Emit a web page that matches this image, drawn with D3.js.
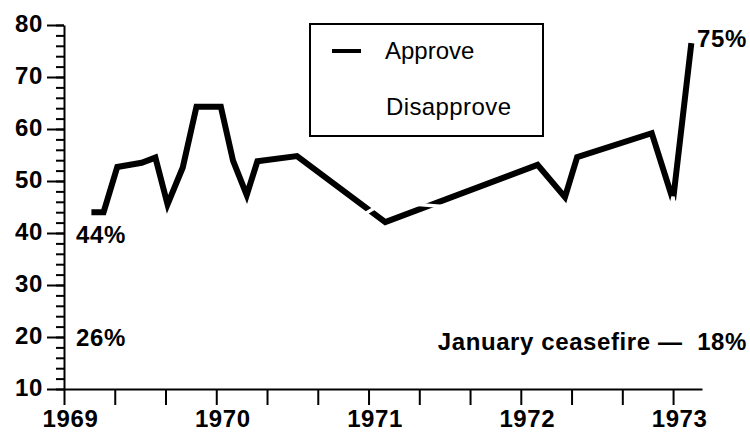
<!DOCTYPE html>
<html>
<head>
<meta charset="utf-8">
<script src="https://cdn.jsdelivr.net/npm/d3@7"></script>
<style>
  body { margin: 0; background: #fff; }
  svg { display: block; font-family: "Liberation Sans", Arial, Helvetica, sans-serif; }
</style>
</head>
<body>
<div id="chart"></div>
<script>
// Approve series (fractional year, percent)
const approveDates = [1969.18, 1969.26, 1969.35, 1969.51, 1969.60, 1969.68, 1969.78, 1969.87, 1970.03, 1970.11,
    1970.20, 1970.27, 1970.53, 1971.11, 1972.11, 1972.29, 1972.37, 1972.86, 1973.00, 1973.12];
const approveValues = [44, 44, 52.7, 53.5, 54.5, 45.5, 52.6, 64.3, 64.3, 53.9,
    47.3, 53.8, 54.8, 42.1, 53.1, 46.9, 54.6, 59.2, 46.3, 76.5];

// Disapprove series is drawn in white (only visible where it cuts the approve line)
const disapproveDates = [1969.18, 1969.35, 1969.68, 1969.87, 1970.03, 1970.20, 1970.53, 1971.11, 1972.11, 1972.29, 1972.86, 1973.00, 1973.12];
const disapproveValues = [26, 30, 36, 25, 25, 40, 36, 46, 43.6, 41, 30, 47, 18];

const yTicks = [10, 20, 30, 40, 50, 60, 70, 80];
const yearLabels = ["1969", "1970", "1971", "1972", "1973"];

const width = 750, height = 432;

const svg = d3.select("#chart")
    .append("svg")
    .attr("width", width)
    .attr("height", height);

// Scales
const x = d3.scaleLinear().domain([1969, 1973.19]).range([64, 702]);
const y = d3.scaleLinear().domain([10, 80]).range([389, 25]);

// Y axis: minor ticks every 2 points
const yMinor = svg.append("g")
    .attr("transform", "translate(64,0)")
    .call(d3.axisLeft(y).tickValues(d3.range(10, 81, 2)).tickSize(8).tickSizeOuter(0).tickFormat(""));
yMinor.select(".domain").remove();

// Y axis: major ticks with labels
const yAxis = svg.append("g")
    .attr("transform", "translate(64,0)")
    .call(d3.axisLeft(y).tickValues(yTicks).tickSize(17).tickSizeOuter(0).tickPadding(4).tickFormat(d3.format("d")));
yAxis.selectAll("text")
    .attr("dy", "0.26em")
    .style("font-size", "24px")
    .style("font-weight", "bold")
    .style("letter-spacing", "0.6px")
    .style("fill", "#000");

// X axis: ticks every 4 months
const xTickValues = d3.range(0, 13).map(i => 1969 + i / 3);
const xAxis = svg.append("g")
    .attr("transform", `translate(0,${y(10)})`)
    .call(d3.axisBottom(x).tickValues(xTickValues).tickSize(16).tickSizeOuter(0).tickPadding(5)
        .tickFormat((d, i) => i % 3 === 0 ? yearLabels[i / 3] : ""));
xAxis.selectAll("text")
    .attr("x", 6)
    .style("font-size", "24px")
    .style("font-weight", "bold")
    .style("letter-spacing", "0.6px")
    .style("fill", "#000");

svg.selectAll(".domain, .tick line")
    .style("stroke", "#000")
    .style("stroke-width", 2);

// Lines
const line = d3.line()
    .x(d => x(d[0]))
    .y(d => y(d[1]));

svg.append("path")
    .datum(approveDates.map((d, i) => [d, approveValues[i]]))
    .attr("d", line)
    .style("fill", "none")
    .style("stroke", "#000")
    .style("stroke-width", 6)
    .style("stroke-linejoin", "miter");

svg.append("path")
    .datum(disapproveDates.map((d, i) => [d, disapproveValues[i]]))
    .attr("d", line)
    .style("fill", "none")
    .style("stroke", "#fff")
    .style("stroke-width", 3.5);

// Legend
const legend = svg.append("g");
legend.append("rect")
    .attr("x", 310).attr("y", 24)
    .attr("width", 233).attr("height", 112)
    .style("fill", "#fff")
    .style("stroke", "#000")
    .style("stroke-width", 2);
legend.append("line")
    .attr("x1", 332).attr("x2", 361).attr("y1", 51).attr("y2", 51)
    .style("stroke", "#000").style("stroke-width", 4);
legend.append("line")
    .attr("x1", 332).attr("x2", 361).attr("y1", 107).attr("y2", 107)
    .style("stroke", "#fff").style("stroke-width", 4);
legend.append("text")
    .attr("x", 385).attr("y", 59)
    .style("font-size", "24px")
    .text("Approve");
legend.append("text")
    .attr("x", 386).attr("y", 115)
    .style("font-size", "24px")
    .style("letter-spacing", "0.4px")
    .text("Disapprove");

// Annotations
const notes = svg.append("g")
    .style("font-size", "24px")
    .style("font-weight", "bold")
    .style("letter-spacing", "0.6px");
notes.append("text").attr("x", 76).attr("y", 243).text("44%");
notes.append("text").attr("x", 76).attr("y", 346).text("26%");
notes.append("text").attr("x", 697).attr("y", 47).text("75%");
notes.append("text").attr("x", 747).attr("y", 350)
    .attr("text-anchor", "end")
    .style("white-space", "pre")
    .text("January ceasefire \u2014  18%");
</script>
</body>
</html>
